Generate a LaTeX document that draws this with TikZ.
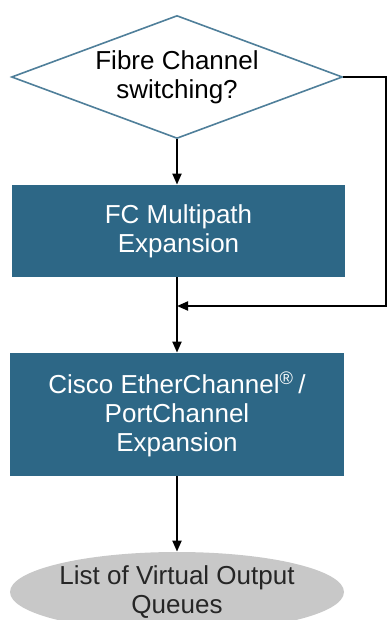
\documentclass[tikz,border=0pt]{standalone}
\usepackage{fontspec}
\setmainfont{Liberation Sans}
\usetikzlibrary{shapes.geometric,arrows.meta}
\definecolor{ciscoteal}{HTML}{2D6786}
\definecolor{diamondedge}{HTML}{4F7F9A}
\definecolor{queuegray}{HTML}{C8C8C8}
\begin{document}
\begin{tikzpicture}[x=0.5pt, y=-0.5pt,
		boxtext/.style={font=\fontsize{13}{14.5}\selectfont, align=center},
		decision/.style={boxtext, diamond, shape aspect=2.69, draw=diamondedge, line width=0.8pt, fill=white,
			inner sep=0pt, minimum width=165.5pt, minimum height=61.5pt},
		process/.style={boxtext, rectangle, fill=ciscoteal, text=white, inner sep=0pt},
		queue/.style={boxtext, ellipse, fill=queuegray, text=black!85, inner sep=0pt,
			minimum width=167pt, minimum height=40pt},
		flow/.style={line width=1pt, -{Triangle[length=5.5pt, width=4.5pt]}}]
		\useasboundingbox (0,0) rectangle (389,620);
		\clip (0,0) rectangle (389,620);

		\node[decision] (fcq) at (177,77) {Fibre Channel\\switching?};
		\node[process, minimum width=166.5pt, minimum height=46pt] (multipath) at (178.5,231) {FC Multipath\\Expansion};
		\node[process, minimum width=167pt, minimum height=61.5pt] (portchan) at (177,414.5) {Cisco EtherChannel\textsuperscript{®}\,/\\PortChannel\\Expansion};
		\node[queue] (voq) at (177,592) {List of Virtual Output\\Queues};

		\coordinate (rtop) at (386,77);
		\coordinate (rbot) at (386,306);
		\coordinate (merge) at (177,306);

		\draw[flow] (fcq.south) -- (fcq.south |- multipath.north);
		\draw[flow] (multipath.south -| fcq.south) -- (portchan.north -| fcq.south);
		\draw[flow] (fcq.east) -- (rtop) -- (rbot) -- (merge);
		\draw[flow] (portchan.south -| fcq.south) -- (voq.north);
	\end{tikzpicture}
\end{document}
